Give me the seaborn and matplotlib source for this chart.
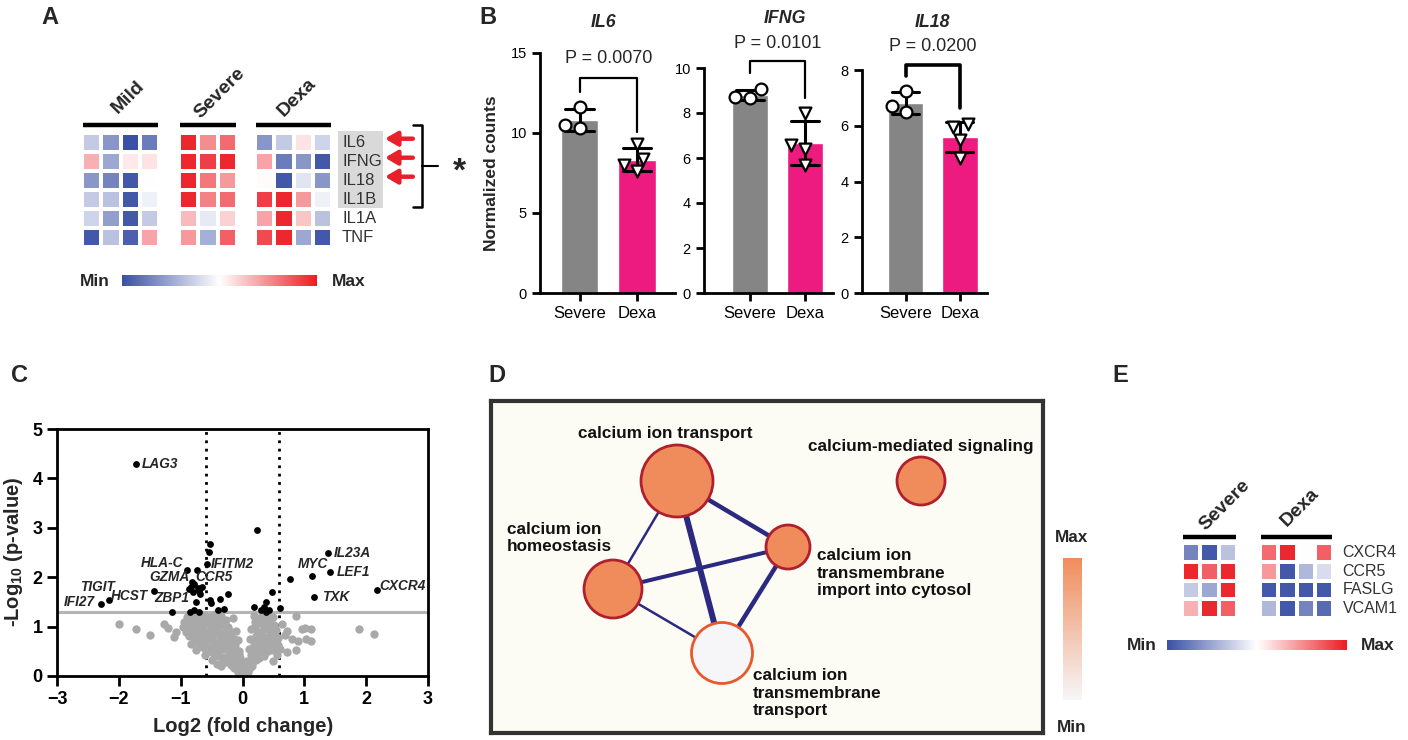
import numpy as np
import pandas as pd
import matplotlib
matplotlib.use("Agg")
import matplotlib.pyplot as plt
import seaborn as sns
from matplotlib import font_manager
from matplotlib.colors import LinearSegmentedColormap
from matplotlib.cm import ScalarMappable
from matplotlib.patches import Rectangle, Circle

# ---------------- data ----------------
# A: cytokine heatmap (row z-scores, -1 = min, 1 = max)
genes_a = ["IL6", "IFNG", "IL18", "IL1B", "IL1A", "TNF"]
mild_a = [[-0.3, -0.6, -1.0, -0.75],
          [0.35, -0.5, 0.1, 0.12],
          [-0.6, -0.7, -0.95, 0.0],
          [-0.3, -0.35, -0.95, -0.08],
          [-0.25, -0.55, -0.95, -0.3],
          [-0.95, -0.35, -0.9, 0.4]]
severe_a = [[0.95, 0.5, 0.65],
            [0.95, 0.85, 0.95],
            [0.95, 0.6, 0.45],
            [0.95, 0.55, 0.65],
            [0.3, -0.12, 0.2],
            [0.45, -0.45, 0.7]]
dexa_a = [[-0.6, -0.3, 0.12, -0.25],
          [0.4, -0.75, -0.6, -0.95],
          [0.02, -0.95, -0.15, -0.6],
          [0.85, 0.95, 0.45, -0.08],
          [0.4, 0.95, 0.25, -0.35],
          [0.8, 0.95, -0.5, -0.95]]
arrow_genes = ["IL6", "IFNG", "IL18"]
boxed_genes = ["IL6", "IFNG", "IL18", "IL1B"]

# B: normalized counts
groups_b = ["Severe", "Dexa"]
il6_severe = [10.3, 11.6, 10.5]
il6_dexa = [9.3, 8.4, 8.0, 7.6]
ifng_severe = [8.65, 9.05, 8.7]
ifng_dexa = [8.0, 6.6, 6.4, 5.7]
il18_severe = [7.25, 6.5, 6.7]
il18_dexa = [5.95, 6.05, 5.5, 4.85]
p_values = ["P = 0.0070", "P = 0.0101", "P = 0.0200"]

# C: volcano plot
gray_points = [
    (-0.04, 0.03), (0.01, 0.06), (0.05, 0.02), (-0.08, 0.09), (0.09, 0.08), (-0.01, 0.12), (0.03, 0.1),
    (-0.13, 0.16), (-0.06, 0.19), (0.04, 0.17), (0.11, 0.14), (0.15, 0.2), (-0.19, 0.22), (0.0, 0.24),
    (-0.26, 0.28), (-0.17, 0.31), (-0.09, 0.27), (0.07, 0.3), (0.16, 0.26), (0.22, 0.33), (-0.32, 0.35),
    (0.27, 0.36), (-0.04, 0.36),
    (-0.4, 0.41), (-0.31, 0.38), (-0.22, 0.43), (-0.13, 0.4), (-0.05, 0.45), (0.13, 0.42), (0.21, 0.39),
    (0.29, 0.44), (0.34, 0.4), (-0.47, 0.46),
    (-0.55, 0.5), (-0.47, 0.53), (-0.39, 0.49), (-0.3, 0.55), (-0.22, 0.51), (-0.14, 0.54), (-0.06, 0.5),
    (0.16, 0.52), (0.25, 0.49), (0.33, 0.55), (0.41, 0.5), (0.5, 0.53), (-0.63, 0.56),
    (-0.7, 0.6), (-0.62, 0.63), (-0.54, 0.59), (-0.46, 0.64), (-0.38, 0.61), (-0.29, 0.66), (-0.21, 0.6),
    (-0.12, 0.63), (0.18, 0.62), (0.27, 0.59), (0.36, 0.64), (0.45, 0.6), (0.58, 0.63),
    (-0.79, 0.7), (-0.71, 0.73), (-0.63, 0.69), (-0.55, 0.74), (-0.47, 0.71), (-0.39, 0.68), (-0.31, 0.73),
    (-0.22, 0.7), (-0.14, 0.75), (0.2, 0.71), (0.3, 0.68), (0.39, 0.74), (0.49, 0.7), (0.57, 0.76),
    (-0.86, 0.8), (-0.78, 0.83), (-0.7, 0.79), (-0.62, 0.84), (-0.54, 0.8), (-0.45, 0.85), (-0.37, 0.81),
    (-0.28, 0.78), (-0.19, 0.83), (0.22, 0.8), (0.32, 0.84), (0.42, 0.79), (0.52, 0.83),
    (-0.92, 0.9), (-0.84, 0.93), (-0.76, 0.89), (-0.68, 0.94), (-0.6, 0.9), (-0.51, 0.95), (-0.43, 0.91),
    (-0.35, 0.88), (-0.26, 0.93), (-0.17, 0.9), (0.24, 0.91), (0.34, 0.95), (0.44, 0.9), (0.54, 0.94),
    (-0.97, 1.0), (-0.89, 1.03), (-0.81, 0.99), (-0.73, 1.04), (-0.65, 1.0), (-0.57, 1.05), (-0.49, 1.01),
    (-0.41, 0.98), (-0.32, 1.03), (-0.23, 1.0), (0.21, 1.01), (0.31, 1.05), (0.41, 1.0), (0.51, 1.04),
    (-0.94, 1.1), (-0.85, 1.13), (-0.77, 1.09), (-0.69, 1.14), (-0.61, 1.1), (-0.52, 1.15), (-0.44, 1.11),
    (-0.35, 1.08), (-0.26, 1.13), (0.2, 1.1), (0.32, 1.14), (0.43, 1.09),
    (-0.89, 1.2), (-0.8, 1.23), (-0.71, 1.19), (-0.62, 1.24), (-0.53, 1.2), (-0.44, 1.25), (-0.35, 1.21),
    (0.18, 1.22), (0.3, 1.19), (0.4, 1.24), (0.5, 1.2),
    (-0.5, 0.32), (-0.42, 0.25), (-0.6, 0.42), (-0.75, 0.52), (-0.34, 0.2), (-0.83, 0.64),
    (0.1, 0.55), (0.12, 0.75), (0.13, 0.95), (-0.08, 0.72), (-0.1, 0.92), (-0.15, 1.18),
    (-2.0, 1.05), (-1.72, 0.95), (-1.49, 0.82), (-1.27, 1.06), (-1.2, 0.98), (-1.08, 0.9), (-1.1, 0.78),
    (0.64, 1.06), (0.72, 0.92), (0.87, 1.22), (0.97, 0.96), (1.01, 0.98), (1.1, 0.96), (1.03, 0.74),
    (0.9, 0.7), (1.1, 0.7), (0.8, 0.75), (0.6, 0.55), (0.86, 0.53), (0.72, 0.48), (1.88, 0.95),
    (2.12, 0.85), (0.68, 0.82), (0.5, 0.3), (0.55, 0.42),
]
sig_points = [
    (-1.72, 4.29), (0.23, 2.96), (-0.52, 2.67), (-0.54, 2.52), (-0.58, 2.26), (-0.90, 2.15),
    (-0.74, 2.15), (-0.81, 1.91), (-0.83, 1.81), (-0.87, 1.76), (-0.72, 1.78), (-0.69, 1.67),
    (-0.78, 1.86), (-0.70, 1.72), (-0.65, 1.80), (-0.80, 1.70),
    (-0.75, 1.50), (-0.79, 1.34), (-0.85, 1.30), (-0.71, 1.30), (-0.53, 1.54), (-0.51, 1.48),
    (-0.36, 1.55), (-0.24, 1.66), (-0.40, 1.34), (-0.30, 1.35), (-1.14, 1.30), (-1.43, 1.73),
    (-2.16, 1.54), (-2.29, 1.45),
    (1.38, 2.48), (1.13, 2.03), (1.42, 2.10), (2.17, 1.74), (1.16, 1.59), (0.77, 1.97),
    (0.47, 1.71), (0.38, 1.50), (0.34, 1.40), (0.19, 1.40), (0.61, 1.37), (0.43, 1.34),
    (0.38, 1.30), (0.30, 1.34),
]
# label text anchors (data coords) and alignment
volcano_labels = [
    ("LAG3", -1.63, 4.29, "left"), ("IL23A", 1.48, 2.49, "left"), ("LEF1", 1.53, 2.11, "left"),
    ("CXCR4", 2.22, 1.82, "left"), ("TXK", 1.29, 1.60, "left"), ("MYC", 1.14, 2.27, "center"),
    ("HLA-C", -0.96, 2.29, "right"), ("IFITM2", -0.51, 2.27, "left"), ("GZMA", -0.85, 2.0, "right"),
    ("CCR5", -0.77, 2.0, "left"), ("TIGIT", -2.06, 1.80, "right"), ("HCST", -2.13, 1.62, "left"),
    ("ZBP1", -1.43, 1.58, "left"), ("IFI27", -2.39, 1.50, "right"),
]

# D: GO term network (positions in box pixels, radius ~ gene count, score 1 = max)
terms = ["calcium ion transport", "calcium-mediated signaling",
         "calcium ion\ntransmembrane\nimport into cytosol", "calcium ion\nhomeostasis",
         "calcium ion\ntransmembrane\ntransport"]
term_x = [186, 430, 297, 122, 231]
term_y = [80, 80, 146, 188, 252]
term_r = [36, 24, 22, 29, 30.5]
term_score = [1.0, 1.0, 1.0, 1.0, 0.0]
links = [(0, 3, 2.5), (0, 4, 6.0), (0, 2, 4.5), (3, 2, 4.0), (3, 4, 2.5), (2, 4, 4.5)]
term_label_pos = [(174, 33, "center"), (430, 46, "center"), (326, 172, "left"),
                  (16, 137, "left"), (262, 292, "left")]

# E: chemokine heatmap
genes_e = ["CXCR4", "CCR5", "FASLG", "VCAM1"]
severe_e = [[-0.7, -0.95, -0.35],
            [0.95, 0.7, 0.95],
            [-0.3, -0.5, 0.95],
            [0.35, 0.95, 0.7]]
dexa_e = [[0.65, 0.95, 0.0, 0.7],
          [0.45, -0.95, -0.4, -0.2],
          [-0.95, -0.95, -0.95, -0.95],
          [-0.4, -0.95, -0.7, -0.85]]

# ---------------- setup ----------------
sns.set_theme(style="ticks")
plt.rcParams["font.family"] = ["Liberation Sans", "DejaVu Sans"]
plt.rcParams["mathtext.fontset"] = "custom"
plt.rcParams["mathtext.bf"] = "Liberation Sans:bold"
plt.rcParams["mathtext.rm"] = "Liberation Sans:bold"

# panel B uses a condensed face in the original; fall back to smaller regular text
installed = {f.name for f in font_manager.fontManager.ttflist}
if "Liberation Sans Narrow" in installed:
    narrow = ["Liberation Sans Narrow", "DejaVu Sans"]
    fs_b = dict(yt=12.5, xt=15, p=16.5, title=16, ylab=16)
else:
    narrow = ["Liberation Sans", "DejaVu Sans"]
    fs_b = dict(yt=10.5, xt=12, p=13, title=12.8, ylab=12.5)

W, H = 1408, 740
fig = plt.figure(figsize=(W / 100, H / 100), dpi=100)
fig.patch.set_facecolor("white")


def box(l, t, r, b):
    return [l / W, 1 - b / H, (r - l) / W, (b - t) / H]


def T(x, y, s, **kw):
    fig.text(x / W, 1 - y / H, s, **kw)


cmap_hm = LinearSegmentedColormap.from_list("bwr_fig", ["#3a50a4", "#ffffff", "#ec1c24"])


def heat(vals, rows, rect, label, lab_xy, bar_y, show_rows=False, row_fs=12):
    ax = fig.add_axes(box(*rect))
    df = pd.DataFrame(vals, index=rows)
    sns.heatmap(df, ax=ax, cmap=cmap_hm, vmin=-1, vmax=1, cbar=False,
                linewidths=1.5, linecolor="white", xticklabels=False, yticklabels=False)
    n = df.shape[1]
    ax.plot([0.05, n - 0.05], [bar_y, bar_y], color="black", lw=3.2,
            clip_on=False, solid_capstyle="butt")
    ax.text(lab_xy[0], lab_xy[1], label, rotation=45, ha="center", va="center",
            fontsize=14, fontweight="bold")
    if show_rows:
        for i, g in enumerate(rows):
            ax.text(n + 0.52, i + 0.5, g, ha="left", va="center", fontsize=row_fs, color="#333333")
    return ax


def hbar(rect, min_x, max_x, y):
    cax = fig.add_axes(box(*rect))
    cb = fig.colorbar(ScalarMappable(cmap=cmap_hm), cax=cax, orientation="horizontal")
    cb.set_ticks([])
    cb.outline.set_visible(False)
    T(min_x, y, "Min", ha="right", va="center", fontsize=12.5, fontweight="bold")
    T(max_x, y, "Max", ha="left", va="center", fontsize=12.5, fontweight="bold")


# ---------------- A ----------------
T(50, 18, "A", ha="center", va="center", fontsize=17, fontweight="bold")
heat(mild_a, genes_a, (82, 133, 159, 247), "Mild", (2.39, -1.89), -0.42)
heat(severe_a, genes_a, (179, 133, 237, 247), "Severe", (2.12, -2.1), -0.42)
ax_dx = heat(dexa_a, genes_a, (255, 133, 332, 247), "Dexa", (2.18, -1.89), -0.42, show_rows=True)
nb = len(boxed_genes)
ax_dx.add_patch(Rectangle((4.31, -0.1), 2.34, nb + 0.05, facecolor="#d9d9d9",
                          edgecolor="none", clip_on=False, zorder=0))
for g in arrow_genes:
    i = genes_a.index(g)
    ax_dx.annotate("", xy=(6.75, i + 0.3), xytext=(8.2, i + 0.3), annotation_clip=False,
                   arrowprops=dict(arrowstyle="-|>,head_length=0.6,head_width=0.35",
                                   color="#e8202a", lw=3.2, shrinkA=0, shrinkB=0))
ax_dx.plot([8.2, 8.68, 8.68, 8.2], [-0.42, -0.42, 3.9, 3.9], color="black", lw=1.8, clip_on=False)
ax_dx.plot([8.68, 9.5], [1.74, 1.74], color="black", lw=1.5, clip_on=False)
ax_dx.text(10.6, 2.05, "*", ha="center", va="center", fontsize=24, fontweight="bold")
hbar((122, 275, 317, 286), 110, 332, 281)

# ---------------- B ----------------
T(488, 17, "B", ha="center", va="center", fontsize=17, fontweight="bold")
panels_b = [
    ("IL6", il6_severe, il6_dexa, (540, 53, 675, 293), (-0.69, 1.66), 15, [0, 5, 10, 15],
     (12.57, 13.44, 10.08), 14.65, 16.93, 0.41, 1.6),
    ("IFNG", ifng_severe, ifng_dexa, (704, 68, 833, 293), (-0.84, 1.51), 10, [0, 2, 4, 6, 8, 10],
     (9.78, 10.3, 8.67), 11.1, 12.2, 0.64, 1.6),
    ("IL18", il18_severe, il18_dexa, (862, 70, 987, 293), (-0.81, 1.5), 8, [0, 2, 4, 6, 8],
     (7.78, 8.18, 6.64), 8.86, 9.72, 0.5, 2.6),
]
for k, (gene, sev, dex, rect, xl, ymax, yt, br, py, ty, tx, blw) in enumerate(panels_b):
    ax = fig.add_axes(box(*rect))
    df = pd.DataFrame({"group": ["Severe"] * len(sev) + ["Dexa"] * len(dex),
                       "value": sev + dex})
    sns.barplot(data=df, x="group", y="value", order=groups_b, hue="group",
                palette={"Severe": "#858585", "Dexa": "#ed1a7f"}, saturation=1, legend=False,
                errorbar="sd", capsize=0.5, width=0.65,
                err_kws={"color": "black", "linewidth": 2.2}, ax=ax)
    sns.swarmplot(data=df[df.group == "Severe"], x="group", y="value", order=groups_b,
                  marker="o", size=8.5, color="white", edgecolor="black", linewidth=1.6, ax=ax)
    sns.swarmplot(data=df[df.group == "Dexa"], x="group", y="value", order=groups_b,
                  marker="v", size=8.5, color="white", edgecolor="black", linewidth=1.6, ax=ax)
    ax.set_xlim(*xl)
    ax.set_ylim(0, ymax)
    ax.set_yticks(yt)
    ax.set_xlabel("")
    ax.set_ylabel("")
    sns.despine(ax=ax)
    for s in ["left", "bottom"]:
        ax.spines[s].set_linewidth(2)
        ax.spines[s].set_color("black")
    ax.tick_params(axis="both", direction="out", length=6, width=2, colors="black")
    for lab in ax.get_yticklabels():
        lab.set_fontfamily(narrow)
        lab.set_fontsize(fs_b["yt"])
    for lab in ax.get_xticklabels():
        lab.set_fontfamily(narrow)
        lab.set_fontsize(fs_b["xt"])
    ax.plot([0, 0, 1, 1], [br[0], br[1], br[1], br[2]], color="black", lw=blw, clip_on=False)
    ax.text(0.5, py, p_values[k], ha="center", va="center", fontsize=fs_b["p"],
            family=narrow, clip_on=False)
    ax.text(tx, ty, gene, ha="center", va="center", fontsize=fs_b["title"], fontweight="bold",
            fontstyle="italic", family=narrow, clip_on=False)
    if k == 0:
        ax.set_ylabel("Normalized counts", fontsize=fs_b["ylab"], fontweight="bold", family=narrow)
        ax.yaxis.set_label_coords(-0.30, 0.5)

# ---------------- C ----------------
T(19, 376, "C", ha="center", va="center", fontsize=17, fontweight="bold")
axc = fig.add_axes(box(57, 429, 428, 676))
gdf = pd.DataFrame(gray_points, columns=["lfc", "logp"])
sdf = pd.DataFrame(sig_points, columns=["lfc", "logp"])
axc.axhline(1.3, color="#b5b5b5", lw=2.2, zorder=1)
for v in (-0.585, 0.585):
    axc.axvline(v, color="black", lw=2, ls=(0, (1, 2)), zorder=1)
sns.scatterplot(data=gdf, x="lfc", y="logp", color="#a9a9a9", s=36, linewidth=0, ax=axc, zorder=2)
sns.scatterplot(data=sdf, x="lfc", y="logp", color="black", s=24, linewidth=0, ax=axc, zorder=3)
for g, x, y, ha in volcano_labels:
    axc.text(x, y, g, ha=ha, va="center", fontsize=9.8, fontweight="bold", fontstyle="italic")
axc.set_xlim(-3, 3)
axc.set_ylim(0, 5)
axc.set_xticks(range(-3, 4))
axc.set_yticks(range(0, 6))
axc.set_xlabel("")
axc.set_ylabel("")
for s in axc.spines.values():
    s.set_linewidth(2)
    s.set_color("black")
axc.tick_params(axis="both", direction="out", length=7, width=2, labelsize=13, colors="black")
for lab in axc.get_xticklabels() + axc.get_yticklabels():
    lab.set_fontweight("bold")
T(243, 727, "Log2 (fold change)", ha="center", va="center", fontsize=14.5, fontweight="bold")
T(14, 552, r"-Log$_{\mathbf{10}}$ (p-value)", ha="center", va="center", rotation=90,
  fontsize=14.5, fontweight="bold")

# ---------------- D ----------------
T(497, 376, "D", ha="center", va="center", fontsize=17, fontweight="bold")
node_cmap = LinearSegmentedColormap.from_list("go", ["#f6f6f9", "#f08c5c"])
axd = fig.add_axes(box(491, 401, 1043, 733))
axd.set_xlim(0, 552)
axd.set_ylim(332, 0)
axd.set_facecolor("#fdfcf4")
axd.set_xticks([])
axd.set_yticks([])
for s in axd.spines.values():
    s.set_linewidth(3)
    s.set_color("#333333")
for a, b, w in links:
    axd.plot([term_x[a], term_x[b]], [term_y[a], term_y[b]], color="#2b2a80",
             lw=w * 0.72, solid_capstyle="butt", zorder=1)
for i in range(len(terms)):
    ec = "#b01f2d" if term_score[i] > 0.5 else "#e8582a"
    axd.add_patch(Circle((term_x[i], term_y[i]), term_r[i], facecolor=node_cmap(float(term_score[i])),
                         edgecolor=ec, lw=2.0, zorder=2))
    lx, ly, ha = term_label_pos[i]
    axd.text(lx, ly, terms[i], ha=ha, va="center", fontsize=12.3, fontweight="bold",
             linespacing=1.17, color="#111111", zorder=3)
caxd = fig.add_axes(box(1063, 558, 1082, 700))
cbd = fig.colorbar(ScalarMappable(cmap=node_cmap), cax=caxd)
cbd.set_ticks([])
cbd.outline.set_visible(False)
T(1072, 538, "Max", ha="center", va="center", fontsize=12.3, fontweight="bold")
T(1072, 727, "Min", ha="center", va="center", fontsize=12.3, fontweight="bold")

# ---------------- E ----------------
T(1120, 376, "E", ha="center", va="center", fontsize=17, fontweight="bold")
heat(severe_e, genes_e, (1182, 543, 1237, 618), "Severe", (2.35, -2.03), -0.32)
heat(dexa_e, genes_e, (1260, 543, 1333, 618), "Dexa", (2.19, -1.92), -0.32,
     show_rows=True, row_fs=11.5)
hbar((1167, 640, 1347, 650), 1157, 1361, 645)

fig.savefig("out.png", dpi=100, facecolor="white")
